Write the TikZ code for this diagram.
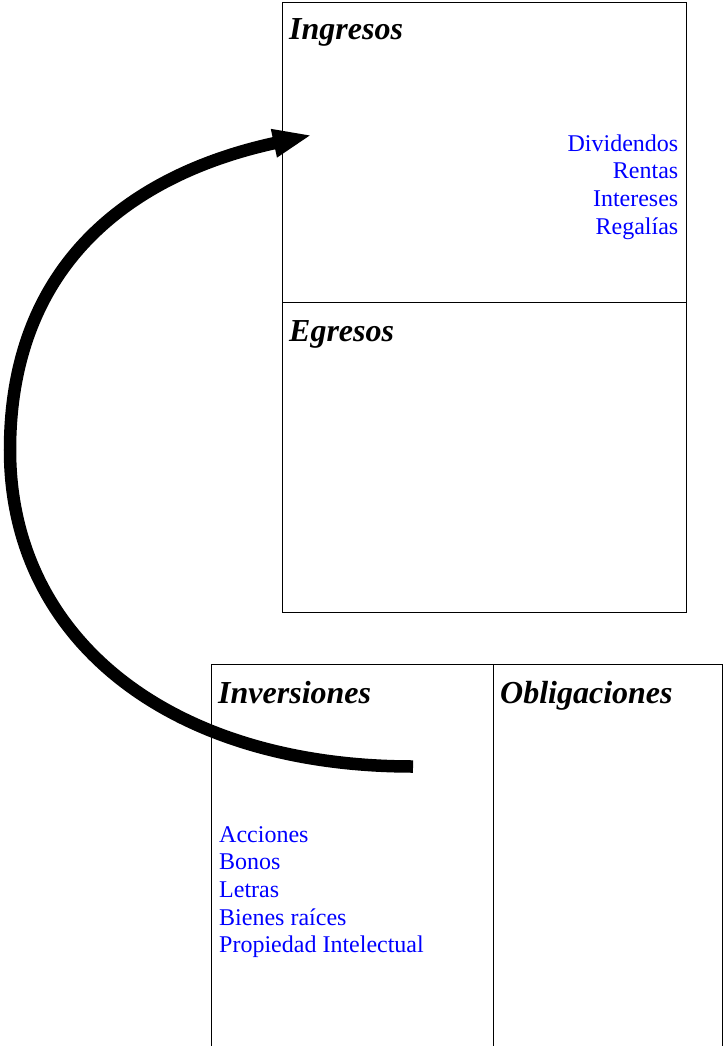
\documentclass[tikz,border=0pt]{standalone}
\usepackage{fontspec}
\setmainfont{Liberation Serif}
\usetikzlibrary{arrows.meta}
\definecolor{itemblue}{RGB}{0,0,255}
\begin{document}
\begin{tikzpicture}[x=1pt,y=-1pt,
  box/.style={draw=black,line width=1pt,anchor=north west,inner sep=0pt,outer sep=0pt},
  title/.style={anchor=base west,inner sep=0pt,font=\fontsize{32}{38}\selectfont\bfseries\itshape},
  itemR/.style={anchor=base east,inner sep=0pt,text=itemblue,font=\fontsize{24}{28}\selectfont},
  itemL/.style={anchor=base west,inner sep=0pt,text=itemblue,font=\fontsize{24}{28}\selectfont},
  bigarrow/.style={line width=12.5pt,black,-{Triangle[length=39pt,width=26pt]}}]
\clip (0,0) rectangle (726,1046);
\fill[white] (0,0) rectangle (726,1046);
% boxes
\node[box,minimum width=404pt,minimum height=299.5pt] (ing) at (282.5,2.5) {};
\node[box,minimum width=404pt,minimum height=310pt] (egr) at (282.5,302) {};
\node[box,minimum width=281.5pt,minimum height=400pt] (inv) at (211.5,664.5) {};
\node[box,minimum width=229pt,minimum height=400pt] (obl) at (493,664.5) {};
% titles
\node[title] (tIng) at (289,40) {Ingresos};
\node[title] (tEgr) at (289,341) {Egresos};
\node[title] (tInv) at (218,703) {Inversiones};
\node[title] (tObl) at (500,703) {Obligaciones};
% income items
\node[itemR] (r1) at (678.5,151) {Dividendos};
\node[itemR] (r2) at (678.5,178.7) {Rentas};
\node[itemR] (r3) at (678.5,206.4) {Intereses};
\node[itemR] (r4) at (678.5,234.1) {Regalías};
% investment items
\node[itemL] (l1) at (219,842) {Acciones};
\node[itemL] (l2) at (219,869.7) {Bonos};
\node[itemL] (l3) at (219,897.4) {Letras};
\node[itemL] (l4) at (219,925.1) {Bienes raíces};
\node[itemL] (l5) at (219,952.8) {Propiedad Intelectual};
% arrow
\coordinate (s) at (413,766.5);
\coordinate (t) at (312,135);
\draw[bigarrow] (s) .. controls (171,766.5) and (10,640) .. (10,450) .. controls (10,260) and (136,173) .. (t);
\end{tikzpicture}
\end{document}
